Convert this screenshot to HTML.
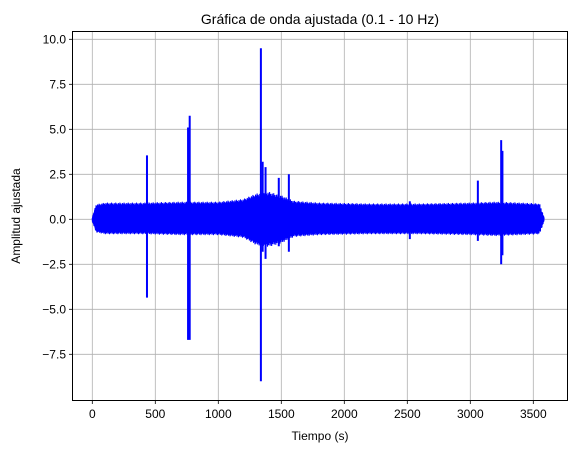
<!DOCTYPE html>
<html><head><meta charset="utf-8"><style>
body{margin:0;background:#fff}
svg text{font-family:"Liberation Sans","DejaVu Sans",sans-serif;fill:#000}
</style></head><body>
<svg id="chart" width="575" height="451" viewBox="0 0 575 451" xmlns="http://www.w3.org/2000/svg">
<rect width="575" height="451" fill="#fff"/>
<text x="320" y="24" font-size="14" text-anchor="middle">Gráfica de onda ajustada (0.1 - 10 Hz)</text>
<g id="grid"></g><g id="series"></g>
<rect x="72.5" y="31.5" width="495" height="369" fill="none" stroke="#000" stroke-width="1"/>
<g id="ticks"></g>
<text x="320" y="440" font-size="12" text-anchor="middle">Tiempo (s)</text>
<text transform="translate(20,216) rotate(-90)" font-size="12" text-anchor="middle">Amplitud ajustada</text>
</svg>
<script>
const xTicks=[0,500,1000,1500,2000,2500,3000,3500];
const yTicks=[-7.5,-5.0,-2.5,0.0,2.5,5.0,7.5,10.0];
// noise envelope: time, upper amplitude, lower amplitude
const envT=[0,30,100,400,700,1000,1200,1300,1400,1500,1600,1800,2200,2600,3000,3200,3400,3550,3585];
const envUp=[0.1,0.8,0.9,0.9,0.95,0.95,1.1,1.4,1.5,1.3,1.0,0.9,0.85,0.85,0.9,0.95,0.9,0.85,0.1];
const envLo=[-0.1,-0.7,-0.8,-0.8,-0.85,-0.85,-1.0,-1.4,-1.5,-1.3,-0.95,-0.85,-0.8,-0.8,-0.85,-0.9,-0.85,-0.8,-0.1];
// spike events
const spikeT=[434,760,773,1338,1352,1375,1480,1560,2520,3060,3245,3255];
const spikeUp=[3.55,5.1,5.75,9.5,3.2,2.9,2.3,2.5,1.0,2.15,4.4,3.8];
const spikeLo=[-4.35,-6.7,-6.7,-9.0,-1.8,-2.2,-1.5,-1.8,-1.1,-1.2,-2.5,-2.0];
const X=t=>92.3+t*0.126, Y=v=>219.3-v*18;
const NS='http://www.w3.org/2000/svg';
function mk(tag,attrs,parent){const e=document.createElementNS(NS,tag);for(const k in attrs)e.setAttribute(k,attrs[k]);parent.appendChild(e);return e;}
const grid=document.getElementById('grid'),ticks=document.getElementById('ticks'),series=document.getElementById('series');
xTicks.forEach(t=>{const x=X(t);
 const g=mk('line',{x1:x,x2:x,y1:31.5,y2:400.5,stroke:'#b0b0b0','stroke-width':0.8},grid);
 
 
 mk('line',{x1:x,x2:x,y1:400.5,y2:404,stroke:'#000','stroke-width':0.8},ticks);
 const l=mk('text',{x:x,y:418,'font-size':12,'text-anchor':'middle'},ticks);l.textContent=t;
 
 });
yTicks.forEach(v=>{const y=Y(v);
 const g=mk('line',{x1:72.5,x2:567.5,y1:y,y2:y,stroke:'#b0b0b0','stroke-width':0.8},grid);
 
 
 mk('line',{x1:69,x2:72.5,y1:y,y2:y,stroke:'#000','stroke-width':0.8},ticks);
 const l=mk('text',{x:66,y:y+4,'font-size':12,'text-anchor':'end'},ticks);l.textContent=v.toFixed(1).replace('-','\u2212');
 
 });
function interp(arr,t){for(let i=0;i<envT.length-1;i++){if(t>=envT[i]&&t<=envT[i+1]){const f=(t-envT[i])/(envT[i+1]-envT[i]);return arr[i]+f*(arr[i+1]-arr[i]);}}return 0;}
let d='';const t0=envT[0],t1=envT[envT.length-1];let k=0;
for(let t=t0;t<=t1;t+=1.5){const v=(k%2?interp(envLo,t):interp(envUp,t))*(0.7+0.3*((k*7)%11)/10);d+=(k?'L':'M')+X(t).toFixed(2)+','+Y(v).toFixed(2);k++;}
const p=mk('path',{d:d,fill:'none',stroke:'#0000ff','stroke-width':1.2,'stroke-linejoin':'round'},series);


spikeT.forEach((t,i)=>{const s=mk('line',{x1:X(t),x2:X(t),y1:Y(spikeUp[i]),y2:Y(spikeLo[i]),stroke:'#0000ff','stroke-width':2},series);
 
 });
</script>
</body></html>
